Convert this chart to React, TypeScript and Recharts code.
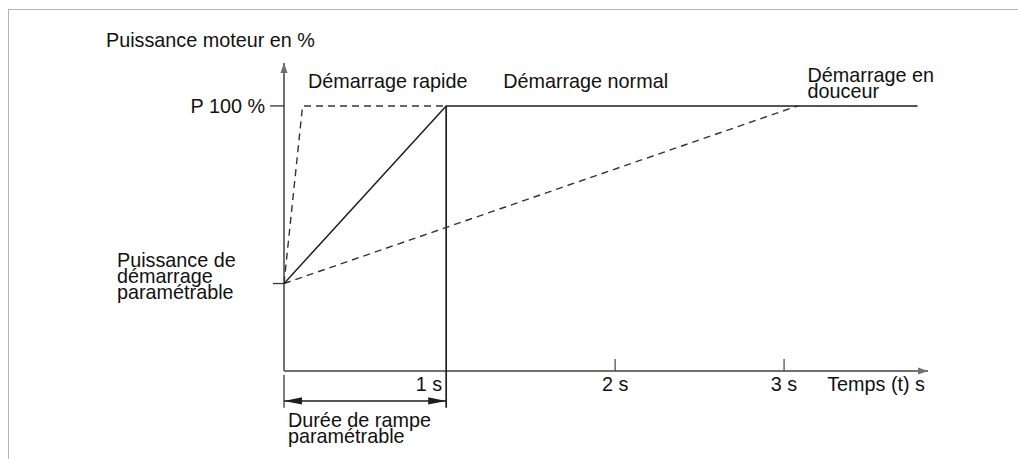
import React from "react";
import { LineChart, Line, XAxis, YAxis, ReferenceLine, ReferenceDot } from "recharts";

// ---- data (seconds / percent) ----
const rampStart = 0.04; // time at the y axis
const timeMax = 3.852;
const powerMax = 116.2;
const startPower = 33;
const fullPower = 100;

const timeTicks = [1, 2, 3];
const timeTickLabels = ["1 s", "2 s", "3 s"];
const powerTicks = [33, 100];
const powerTickLabels = ["", "P 100 %"];
const startPowerLabel = ["Puissance de", "démarrage", "paramétrable"];

const normalStart = [
  { t: 0.04, p: 33 },
  { t: 1, p: 100 },
  { t: 3.79, p: 100 },
];
const fastStart = [
  { t: 0.04, p: 33 },
  { t: 0.15, p: 100 },
  { t: 1, p: 100 },
];
const softStart = [
  { t: 0.04, p: 33 },
  { t: 3.08, p: 100 },
];

const rampDuration = 1;
const dimensionLevel = -11.3;
const extensionTop = -1.5;
const extensionBottom = -13.9;

const yAxisTitle = ["Puissance moteur en %"];
const xAxisTitle = ["Temps (t) s"];
const fastLabel = ["Démarrage rapide"];
const normalLabel = ["Démarrage normal"];
const softLabel = ["Démarrage en", "douceur"];
const rampLabel = ["Durée de rampe", "paramétrable"];

// ---- styles ----
const FONT = "'Liberation Sans', Arial, sans-serif";
const FS = 19.8;
const LH = 16;
const TEXT = "#111";
const AXIS = "#707070";
const LINE = "#1e1e1e";

const MultiText = ({ x, y, lines, anchor = "start" }: any) => (
  <text x={x} y={y} fontFamily={FONT} fontSize={FS} fill={TEXT} textAnchor={anchor}>
    {lines.map((l: string, i: number) => (
      <tspan key={i} x={x} y={y + i * LH}>
        {l}
      </tspan>
    ))}
  </text>
);

const noteShape =
  (lines: string[], dx: number, dy: number, anchor = "start") =>
  (p: any) =>
    <MultiText x={p.cx + dx} y={p.cy + dy} lines={lines} anchor={anchor} />;

const arrowShape =
  (o: { color: string; width: number; len: number; half: number; start?: boolean; end?: boolean }) =>
  (p: any) => {
    const { x1, y1, x2, y2 } = p;
    const dx = x2 - x1;
    const dy = y2 - y1;
    const L = Math.sqrt(dx * dx + dy * dy) || 1;
    const ux = dx / L;
    const uy = dy / L;
    const nx = -uy;
    const ny = ux;
    const head = (tx: number, ty: number, dir: number) => {
      const bx = tx - dir * ux * o.len;
      const by = ty - dir * uy * o.len;
      return `${tx},${ty} ${bx + nx * o.half},${by + ny * o.half} ${bx - nx * o.half},${by - ny * o.half}`;
    };
    return (
      <g>
        <line x1={x1} y1={y1} x2={x2} y2={y2} stroke={o.color} strokeWidth={o.width} />
        {o.start && <polygon points={head(x1, y1, -1)} fill={o.color} />}
        {o.end && <polygon points={head(x2, y2, 1)} fill={o.color} />}
      </g>
    );
  };

const plainShape = (color: string, width: number) => (p: any) =>
  <line x1={p.x1} y1={p.y1} x2={p.x2} y2={p.y2} stroke={color} strokeWidth={width} />;

const XTick = (props: any) => {
  const { x, y, payload } = props;
  const i = timeTicks.indexOf(payload.value);
  const label = timeTickLabels[i];
  const isRamp = payload.value === rampDuration;
  return (
    <g>
      {!isRamp && <line x1={x} y1={y - 12} x2={x} y2={y} stroke="#444" strokeWidth={1.2} />}
      <text
        x={isRamp ? x - 4 : x}
        y={y + 20}
        textAnchor={isRamp ? "end" : "middle"}
        fontFamily={FONT}
        fontSize={FS}
        fill={TEXT}
      >
        {label}
      </text>
    </g>
  );
};

const YTick = (props: any) => {
  const { x, y, payload } = props;
  const i = powerTicks.indexOf(payload.value);
  const label = powerTickLabels[i];
  const isStart = payload.value === startPower;
  return (
    <g>
      <line x1={x - (isStart ? 11 : 14)} y1={y} x2={x} y2={y} stroke="#333" strokeWidth={1.3} />
      {label ? (
        <text x={x - 19} y={y + 7} textAnchor="end" fontFamily={FONT} fontSize={FS} fill={TEXT}>
          {label}
        </text>
      ) : null}
      {isStart && <MultiText x={x - 167} y={y - 17} lines={startPowerLabel} />}
    </g>
  );
};

export default function App() {
  return (
    <div style={{ position: "absolute", left: 0, top: 0, width: 1018, height: 459, background: "#fff" }}>
      <div
        style={{
          position: "absolute",
          left: 8,
          top: 9,
          width: 1010,
          height: 450,
          borderTop: "1px solid #b4b4b4",
          borderLeft: "1px solid #b4b4b4",
          boxSizing: "border-box",
        }}
      />
      <div style={{ position: "absolute", left: 0, top: 0 }}>
        <LineChart width={1018} height={459} margin={{ top: 63, right: 90, bottom: 58, left: 224 }}>
          <XAxis
            type="number"
            dataKey="t"
            domain={[rampStart, timeMax]}
            allowDataOverflow
            ticks={timeTicks}
            interval={0}
            axisLine={false}
            tickLine={false}
            tickSize={0}
            tickMargin={0}
            height={30}
            tick={XTick}
          />
          <YAxis
            type="number"
            dataKey="p"
            domain={[0, powerMax]}
            allowDataOverflow
            ticks={powerTicks}
            interval={0}
            axisLine={false}
            tickLine={false}
            tickSize={0}
            tickMargin={0}
            width={60}
            tick={YTick}
          />
          {/* axes with arrows */}
          <ReferenceLine
            segment={[{ x: rampStart, y: 0 }, { x: rampStart, y: powerMax }]}
            ifOverflow="visible"
            shape={arrowShape({ color: AXIS, width: 2, len: 10, half: 3.6, end: true })}
          />
          <ReferenceLine
            segment={[{ x: rampStart, y: 0 }, { x: timeMax, y: 0 }]}
            ifOverflow="visible"
            shape={arrowShape({ color: AXIS, width: 2, len: 10, half: 3.6, end: true })}
          />
          {/* ramp duration dimension */}
          <ReferenceLine
            segment={[{ x: rampStart, y: extensionTop }, { x: rampStart, y: extensionBottom }]}
            ifOverflow="visible"
            shape={plainShape(AXIS, 1.8)}
          />
          <ReferenceLine
            segment={[{ x: rampDuration, y: fullPower }, { x: rampDuration, y: extensionBottom }]}
            ifOverflow="visible"
            shape={plainShape(LINE, 1.7)}
          />
          <ReferenceLine
            segment={[{ x: rampStart, y: dimensionLevel }, { x: rampDuration, y: dimensionLevel }]}
            ifOverflow="visible"
            shape={arrowShape({ color: LINE, width: 1.5, len: 18, half: 3.6, start: true, end: true })}
          />
          {/* ramps */}
          <Line
            data={softStart}
            dataKey="p"
            type="linear"
            stroke="#333"
            strokeWidth={1.4}
            strokeDasharray="7 5"
            dot={false}
            activeDot={false}
            isAnimationActive={false}
          />
          <Line
            data={fastStart}
            dataKey="p"
            type="linear"
            stroke="#333"
            strokeWidth={1.4}
            strokeDasharray="7 5"
            dot={false}
            activeDot={false}
            isAnimationActive={false}
          />
          <Line
            data={normalStart}
            dataKey="p"
            type="linear"
            stroke={LINE}
            strokeWidth={1.5}
            dot={false}
            activeDot={false}
            isAnimationActive={false}
          />
          {/* notes */}
          <ReferenceDot x={rampStart} y={powerMax} r={0} ifOverflow="visible" shape={noteShape(yAxisTitle, -178, -16)} />
          <ReferenceDot x={rampStart} y={fullPower} r={0} ifOverflow="visible" shape={noteShape(fastLabel, 24, -18)} />
          <ReferenceDot x={rampDuration} y={fullPower} r={0} ifOverflow="visible" shape={noteShape(normalLabel, 57, -18)} />
          <ReferenceDot x={softStart[1].t} y={fullPower} r={0} ifOverflow="visible" shape={noteShape(softLabel, 10, -24)} />
          <ReferenceDot x={rampStart} y={dimensionLevel} r={0} ifOverflow="visible" shape={noteShape(rampLabel, 4, 26)} />
          <ReferenceDot x={timeMax} y={0} r={0} ifOverflow="visible" shape={noteShape(xAxisTitle, -3, 20, "end")} />
        </LineChart>
      </div>
    </div>
  );
}
